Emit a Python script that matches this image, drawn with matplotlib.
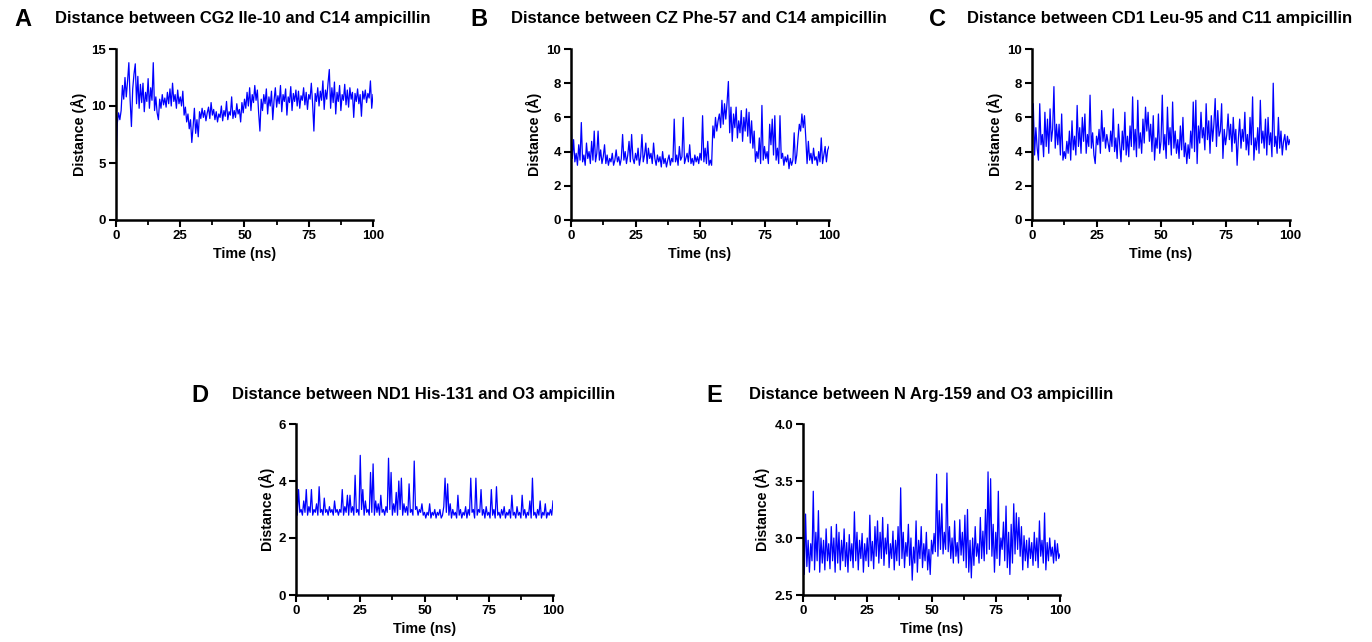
import numpy as np
import matplotlib
matplotlib.use("Agg")
import matplotlib.pyplot as plt
from matplotlib.ticker import MultipleLocator, FormatStrFormatter

plt.rcParams["font.family"] = ["Liberation Sans", "DejaVu Sans"]
plt.rcParams["font.weight"] = "bold"

dist_a = [
    4.5, 8.5, 9.4, 8.8, 9.6, 11.8, 10.6, 12.5, 10.8, 12.2, 13.8, 10.5, 8.2, 11.5, 12.8, 13.7, 10.2, 12.6, 9.8, 11.9, 10.3,
    12.0, 9.5, 11.2, 10.4, 12.4, 9.8, 11.6, 10.5, 13.8, 9.6, 10.8, 9.4, 8.8, 10.6, 9.8, 11.0, 10.1, 10.7, 9.9, 11.2,
    10.2, 11.5, 10.0, 12.0, 10.4, 11.0, 9.8, 11.4, 10.2, 10.8, 10.0, 11.3, 9.2, 9.9, 8.6, 9.3, 8.0, 8.8, 6.8, 8.2,
    9.8, 7.6, 8.8, 7.3, 9.5, 8.9, 9.8, 9.0, 9.6, 8.7, 9.4, 9.9, 8.9, 10.3, 9.2, 9.7, 8.8, 9.5, 8.6, 9.3,
    9.0, 10.0, 8.7, 9.6, 9.1, 10.4, 8.8, 9.5, 9.2, 10.8, 8.9, 9.6, 9.0, 10.2, 9.3, 9.7, 8.6, 10.3, 9.4, 10.6,
    9.8, 11.2, 10.0, 11.6, 9.6, 11.0, 10.3, 11.8, 10.5, 11.4, 9.4, 7.8, 10.6, 9.6, 11.0, 10.2, 11.5, 9.3, 10.8, 10.0,
    11.3, 8.8, 10.5, 11.6, 9.9, 10.9, 10.2, 11.8, 9.5, 11.0, 10.4, 11.5, 9.2, 10.8, 10.3, 11.7, 9.6, 11.1, 10.4, 11.4,
    10.0, 11.3, 9.8, 10.9, 10.5, 11.6, 10.1, 11.2, 9.7, 11.0, 10.6, 12.0, 10.2, 7.8, 11.1, 10.4, 11.6, 10.0, 11.3, 10.5,
    12.2, 9.7, 11.4, 10.6, 12.0, 13.2, 9.8, 11.6, 10.3, 12.1, 9.3, 11.2, 10.4, 11.8, 9.6, 11.0, 10.5, 11.9, 10.1, 11.4,
    9.9, 11.6, 10.6, 11.2, 9.0, 11.1, 10.4, 11.5, 10.2, 11.0, 9.1, 11.3, 10.6, 11.4, 10.3, 11.1, 10.7, 12.2, 9.8, 11.0,
]
dist_b = [
    6.2, 3.6, 4.7, 3.4, 3.9, 3.2, 4.4, 3.5, 5.7, 3.4, 3.8, 3.2, 4.5, 3.6, 4.0, 3.3, 4.6, 3.5, 5.2, 3.4, 3.9,
    5.2, 3.5, 4.1, 3.3, 3.7, 4.4, 3.3, 3.8, 3.2, 3.6, 3.4, 3.9, 3.2, 3.5, 4.1, 3.4, 3.7, 3.2, 3.6, 5.0,
    3.5, 4.0, 3.3, 3.8, 4.6, 3.4, 5.0, 3.6, 3.3, 3.9, 3.5, 4.2, 3.2, 3.7, 5.0, 3.4, 3.8, 4.5, 3.3, 4.2,
    3.6, 3.9, 3.3, 4.5, 3.6, 3.2, 3.8, 3.4, 3.7, 3.1, 4.0, 3.3, 3.6, 3.1, 3.5, 3.8, 3.2, 3.6, 3.4, 5.9,
    3.4, 3.8, 3.2, 4.3, 3.5, 3.7, 6.0, 3.3, 3.6, 3.9, 3.4, 4.4, 3.3, 3.6, 3.2, 3.8, 3.4, 3.7, 3.3, 3.9,
    3.5, 6.1, 3.4, 4.2, 3.3, 4.6, 3.2, 3.5, 3.2, 5.5, 4.8, 6.0, 5.2, 5.8, 6.2, 5.4, 7.0, 5.6, 6.8, 5.9,
    6.9, 8.1, 5.1, 6.6, 4.6, 6.2, 5.4, 6.6, 4.8, 5.8, 5.1, 6.4, 4.6, 6.0, 5.2, 6.5, 4.9, 6.3, 4.5, 5.8,
    4.2, 5.2, 3.4, 4.0, 3.6, 4.8, 3.3, 6.7, 3.5, 4.3, 3.6, 4.0, 3.3, 5.6, 4.4, 5.9, 3.8, 6.1, 3.5, 4.2,
    3.3, 6.1, 3.6, 3.9, 3.2, 3.7, 3.4, 3.8, 3.0, 3.6, 3.2, 3.5, 5.1, 3.3, 3.8, 4.8, 5.6, 5.2, 6.2, 5.4,
    6.1, 4.8, 3.3, 4.6, 3.5, 3.9, 3.3, 4.2, 3.5, 3.7, 3.2, 4.0, 3.4, 4.8, 3.3, 3.8, 4.3, 3.4, 4.1, 4.3,
]
dist_c = [
    4.0, 6.8, 3.8, 5.4, 4.2, 3.5, 6.8, 4.4, 5.0, 3.7, 6.3, 4.3, 5.9, 3.9, 6.5, 4.6, 5.3, 7.8, 4.2, 5.6, 4.4,
    5.6, 3.8, 6.2, 3.5, 4.0, 3.6, 4.6, 3.9, 5.2, 3.5, 5.8, 4.1, 4.9, 3.8, 6.7, 4.3, 5.4, 3.9, 6.0, 4.6,
    6.2, 3.9, 5.0, 4.3, 7.3, 4.2, 5.1, 3.8, 3.3, 4.9, 4.4, 5.3, 3.9, 6.4, 4.6, 5.4, 4.2, 5.0, 4.5, 4.0,
    5.2, 4.3, 6.5, 4.0, 4.8, 3.6, 5.6, 4.4, 3.4, 5.2, 4.1, 6.3, 3.8, 4.9, 3.7, 5.5, 4.3, 7.2, 4.1, 5.3,
    3.7, 7.0, 4.2, 5.1, 3.9, 5.9, 4.5, 6.6, 5.2, 6.3, 4.6, 5.6, 4.0, 6.1, 3.5, 4.8, 4.2, 6.2, 3.9, 4.6,
    7.3, 4.1, 5.0, 3.6, 6.6, 4.4, 5.4, 3.8, 6.9, 4.2, 5.2, 3.9, 4.7, 3.6, 5.5, 4.1, 6.0, 3.7, 4.5, 3.3,
    4.4, 3.6, 5.2, 4.2, 6.9, 4.0, 7.0, 3.3, 5.5, 4.5, 6.3, 4.8, 5.4, 4.1, 6.8, 4.7, 5.8, 3.9, 6.1, 4.6,
    5.6, 7.1, 4.3, 6.4, 4.9, 5.2, 6.8, 3.6, 5.3, 4.4, 5.0, 6.2, 4.7, 5.6, 4.0, 6.0, 4.5, 5.3, 3.2, 4.8,
    5.9, 4.2, 5.3, 4.6, 6.3, 4.1, 5.0, 3.8, 6.0, 4.4, 7.2, 3.5, 4.8, 4.1, 5.4, 3.9, 7.0, 4.5, 5.2, 4.2,
    5.9, 3.8, 6.0, 4.4, 5.1, 3.7, 8.0, 4.3, 4.9, 3.9, 6.0, 4.2, 5.2, 3.8, 4.6, 5.0, 4.1, 4.9, 4.4, 4.7,
]
dist_d = [
    5.0, 2.8, 3.7, 2.9, 3.0, 2.8, 3.3, 2.9, 3.7, 2.8, 3.1, 2.9, 3.7, 2.8, 3.0, 2.9, 3.2, 2.8, 3.8, 2.9, 3.0,
    2.8, 3.4, 2.9, 3.0, 2.8, 3.1, 2.9, 3.0, 2.8, 3.3, 2.9, 3.0, 2.8, 3.0, 2.9, 3.7, 2.8, 3.1, 2.9, 3.5,
    2.8, 3.5, 2.9, 3.1, 2.8, 4.2, 2.9, 3.0, 2.8, 4.9, 3.0, 3.7, 2.8, 3.3, 2.9, 3.0, 2.8, 4.3, 2.9, 4.6,
    2.8, 3.3, 2.9, 3.2, 2.8, 3.5, 2.9, 3.0, 2.8, 3.1, 2.9, 4.8, 3.0, 4.3, 2.8, 3.2, 2.9, 3.6, 2.8, 4.0,
    3.0, 4.1, 2.8, 3.2, 2.9, 3.1, 2.8, 3.9, 2.9, 3.0, 2.8, 4.7, 3.0, 3.1, 2.8, 3.0, 2.9, 3.2, 2.8, 2.9,
    2.7, 2.9, 2.8, 3.2, 2.7, 2.9, 2.8, 3.0, 2.7, 2.9, 2.8, 3.0, 2.7, 2.8, 3.1, 4.1, 2.9, 3.9, 2.8, 3.2,
    2.7, 3.0, 2.8, 2.9, 2.7, 3.5, 2.8, 3.0, 2.7, 2.9, 2.8, 3.1, 2.7, 3.0, 2.8, 4.1, 2.9, 3.0, 2.7, 4.1,
    2.8, 3.0, 2.9, 3.7, 2.8, 3.0, 2.7, 3.1, 2.8, 2.9, 2.7, 3.7, 2.8, 3.0, 2.7, 3.8, 2.8, 2.9, 2.7, 3.0,
    2.8, 3.1, 2.7, 2.9, 2.8, 3.0, 2.7, 3.5, 2.8, 2.9, 2.7, 3.1, 2.8, 2.9, 2.7, 3.5, 2.8, 3.0, 2.7, 2.9,
    2.8, 3.3, 2.7, 4.1, 2.8, 2.9, 2.7, 3.0, 2.8, 3.3, 2.7, 2.9, 2.8, 3.2, 2.7, 2.9, 2.8, 3.0, 2.8, 3.3,
]
dist_e = [
    3.2, 2.68, 3.21, 2.75, 2.98, 2.7, 2.95, 2.8, 3.41, 2.72, 3.05, 2.8, 3.24, 2.7, 3.0, 2.78, 2.98, 2.72, 3.08, 2.8, 2.95,
    2.73, 3.1, 2.8, 3.0, 2.7, 3.12, 2.78, 3.05, 2.72, 2.98, 2.8, 3.08, 2.75, 2.96, 2.7, 3.03, 2.8, 2.95, 2.74, 3.23,
    2.8, 3.05, 2.72, 2.98, 2.82, 3.04, 2.7, 2.95, 2.8, 3.0, 2.75, 3.2, 2.8, 2.97, 2.73, 3.1, 2.84, 3.15, 2.78, 3.05,
    2.82, 3.18, 2.76, 3.0, 2.86, 3.12, 2.74, 2.95, 2.82, 3.06, 2.72, 2.98, 2.8, 3.1, 2.76, 3.44, 2.82, 3.05, 2.74, 2.96,
    2.84, 3.12, 2.76, 3.0, 2.63, 2.92, 2.78, 3.15, 2.7, 2.98, 2.82, 3.1, 2.74, 2.95, 2.8, 3.05, 2.72, 2.9, 2.68, 2.98,
    2.86, 3.04, 2.88, 3.56, 2.84, 3.24, 2.9, 3.3, 2.86, 3.05, 2.9, 3.57, 2.88, 3.1, 2.82, 3.0, 2.78, 3.15, 2.84, 2.96,
    2.78, 3.16, 2.85, 3.05, 2.8, 3.2, 2.74, 3.25, 2.7, 2.98, 2.65, 3.0, 2.76, 3.1, 2.84, 2.95, 2.78, 3.18, 2.82, 3.06,
    2.8, 3.25, 2.86, 3.58, 2.9, 3.52, 2.84, 3.12, 2.7, 3.05, 2.82, 3.41, 2.76, 3.0, 2.9, 3.14, 2.8, 3.28, 2.74, 3.05,
    2.68, 3.12, 2.78, 3.3, 2.86, 3.22, 2.9, 3.18, 2.84, 3.1, 2.72, 3.02, 2.8, 2.98, 2.74, 3.0, 2.82, 2.96, 2.76, 3.05,
    2.8, 3.0, 2.74, 3.15, 2.84, 2.98, 2.78, 3.22, 2.72, 2.96, 2.8, 3.0, 2.84, 2.92, 2.78, 2.98, 2.8, 2.95, 2.82, 2.86,
]

letters = ["A", "B", "C", "D", "E"]
titles = [
    "Distance between CG2 Ile-10 and C14 ampicillin",
    "Distance between CZ Phe-57 and C14 ampicillin",
    "Distance between CD1 Leu-95 and C11 ampicillin",
    "Distance between ND1 His-131 and O3 ampicillin",
    "Distance between N Arg-159 and O3 ampicillin",
]
series = [dist_a, dist_b, dist_c, dist_d, dist_e]
y_limits = [(0, 15), (0, 10), (0, 10), (0, 6), (2.5, 4.0)]
y_steps = [5, 2, 2, 2, 0.5]
x_ticks = [0, 25, 50, 75, 100]

W, H = 1372, 642
fig = plt.figure(figsize=(W / 100, H / 100), dpi=100)


def box(left, top, right, bottom):
    return [left / W, 1 - bottom / H, (right - left) / W, (bottom - top) / H]


# pixel boxes of the five plot areas, and where the letter/title sit
axes_px = [(116, 49, 373, 220), (571, 49, 829, 220), (1032, 49, 1290, 220),
           (296, 424, 553, 595), (803, 424, 1060, 595)]
header_px = [(23, 55, 19), (479, 511, 19), (938, 967, 19), (200, 232, 395), (714, 749, 395)]

for i, vals in enumerate(series):
    ax = fig.add_axes(box(*axes_px[i]))
    t = np.linspace(0, 100, len(vals))
    ax.plot(t, vals, color="#0000ff", lw=0.9)
    ax.set_xlim(0, 100)
    ax.set_ylim(*y_limits[i])
    ax.set_xticks(x_ticks)
    ax.xaxis.set_minor_locator(MultipleLocator(12.5))
    ax.yaxis.set_major_locator(MultipleLocator(y_steps[i]))
    if i == 4:
        ax.yaxis.set_major_formatter(FormatStrFormatter("%.1f"))
    for s in ["top", "right"]:
        ax.spines[s].set_visible(False)
    for s in ["left", "bottom"]:
        ax.spines[s].set_linewidth(1.8)
    ax.tick_params(which="major", length=5, width=1.5, labelsize=9.5, pad=2)
    ax.tick_params(which="minor", length=3.5, width=1.3)
    for lab in ax.get_xticklabels() + ax.get_yticklabels():
        lab.set_fontweight("bold")
    ax.set_xlabel("Time (ns)", fontsize=10.3, fontweight="bold", labelpad=4)
    ax.set_ylabel("Distance (Å)", fontsize=10.3, fontweight="bold", labelpad=3)

    lx, tx, ty = header_px[i]
    fig.text(lx / W, 1 - ty / H, letters[i], fontsize=17, fontweight="bold",
             ha="center", va="center")
    fig.text(tx / W, 1 - ty / H, titles[i], fontsize=12, fontweight="bold",
             ha="left", va="center")

fig.savefig("out.png", dpi=100)
